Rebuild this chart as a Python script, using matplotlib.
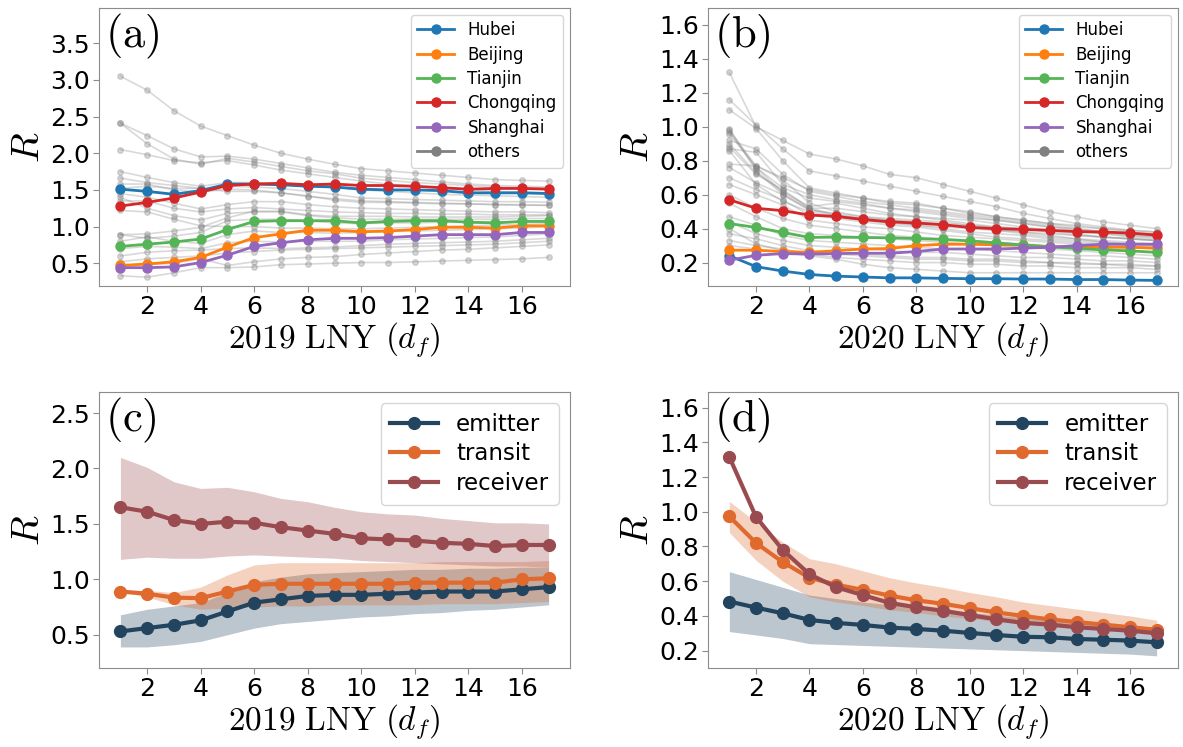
import numpy as np
import matplotlib

matplotlib.use("Agg")
import matplotlib.pyplot as plt

plt.rcParams["mathtext.fontset"] = "cm"
plt.rcParams["font.family"] = "DejaVu Sans"

DAYS = np.arange(1, 18)

# ---------------------------------------------------------------------------
# (a) 2019 LNY, provinces
# ---------------------------------------------------------------------------
HUBEI_19 = [1.51, 1.48, 1.44, 1.49, 1.58, 1.58, 1.57, 1.55, 1.54, 1.51, 1.50,
            1.50, 1.49, 1.46, 1.46, 1.46, 1.45]
BEIJING_19 = [0.47, 0.49, 0.52, 0.58, 0.72, 0.85, 0.90, 0.95, 0.95, 0.93, 0.94,
              0.96, 0.99, 0.99, 0.98, 1.01, 1.01]
TIANJIN_19 = [0.73, 0.76, 0.79, 0.83, 0.96, 1.07, 1.08, 1.08, 1.08, 1.05, 1.07,
              1.08, 1.08, 1.06, 1.05, 1.07, 1.07]
CHONGQING_19 = [1.28, 1.33, 1.39, 1.47, 1.56, 1.58, 1.59, 1.57, 1.58, 1.56, 1.56,
                1.55, 1.53, 1.51, 1.52, 1.52, 1.51]
SHANGHAI_19 = [0.44, 0.44, 0.45, 0.51, 0.61, 0.73, 0.78, 0.82, 0.84, 0.84, 0.85,
               0.87, 0.89, 0.89, 0.89, 0.92, 0.92]

OTHERS_19 = [
    [3.05, 2.86, 2.58, 2.37, 2.24, 2.11, 2.00, 1.92, 1.85, 1.79, 1.76, 1.73, 1.70, 1.67, 1.64, 1.63, 1.62],
    [2.41, 2.24, 2.06, 1.95, 1.96, 1.92, 1.86, 1.80, 1.74, 1.70, 1.67, 1.64, 1.61, 1.58, 1.56, 1.55, 1.54],
    [2.41, 2.13, 1.92, 1.85, 1.93, 1.88, 1.82, 1.76, 1.72, 1.66, 1.63, 1.60, 1.58, 1.56, 1.54, 1.53, 1.52],
    [2.05, 1.98, 1.90, 1.87, 1.90, 1.84, 1.77, 1.72, 1.67, 1.62, 1.58, 1.55, 1.52, 1.50, 1.48, 1.47, 1.46],
    [1.75, 1.67, 1.60, 1.55, 1.60, 1.60, 1.58, 1.56, 1.53, 1.50, 1.48, 1.46, 1.44, 1.43, 1.42, 1.41, 1.40],
    [1.66, 1.60, 1.56, 1.52, 1.55, 1.54, 1.52, 1.48, 1.44, 1.39, 1.38, 1.37, 1.36, 1.35, 1.34, 1.34, 1.33],
    [1.58, 1.58, 1.50, 1.47, 1.51, 1.50, 1.46, 1.41, 1.38, 1.35, 1.34, 1.33, 1.32, 1.31, 1.30, 1.30, 1.29],
    [1.52, 1.55, 1.52, 1.52, 1.48, 1.48, 1.46, 1.42, 1.36, 1.33, 1.33, 1.32, 1.31, 1.31, 1.30, 1.29, 1.29],
    [1.45, 1.40, 1.32, 1.24, 1.30, 1.34, 1.34, 1.30, 1.27, 1.25, 1.24, 1.23, 1.22, 1.21, 1.20, 1.20, 1.19],
    [1.40, 1.25, 1.15, 1.09, 1.18, 1.20, 1.20, 1.15, 1.12, 1.10, 1.10, 1.10, 1.10, 1.10, 1.10, 1.11, 1.11],
    [1.35, 1.35, 1.25, 1.20, 1.24, 1.26, 1.24, 1.22, 1.20, 1.19, 1.18, 1.18, 1.17, 1.17, 1.16, 1.16, 1.16],
    [1.22, 1.20, 1.10, 1.01, 1.00, 1.00, 0.98, 0.98, 0.97, 0.97, 0.98, 0.99, 1.00, 1.01, 1.02, 1.03, 1.04],
    [0.89, 0.90, 0.94, 0.99, 1.12, 1.21, 1.21, 1.16, 1.14, 1.14, 1.14, 1.13, 1.13, 1.13, 1.13, 1.14, 1.15],
    [0.89, 0.84, 0.87, 0.92, 1.08, 1.10, 1.10, 1.08, 1.05, 1.04, 1.05, 1.05, 1.06, 1.06, 1.06, 1.07, 1.08],
    [0.80, 0.86, 0.80, 0.77, 0.89, 0.94, 0.92, 0.92, 0.91, 0.92, 0.93, 0.94, 0.95, 0.96, 0.97, 0.98, 1.00],
    [0.70, 0.73, 0.72, 0.70, 0.78, 0.80, 0.79, 0.80, 0.80, 0.80, 0.82, 0.83, 0.84, 0.85, 0.86, 0.88, 0.90],
    [0.60, 0.65, 0.67, 0.68, 0.70, 0.71, 0.70, 0.71, 0.72, 0.74, 0.76, 0.77, 0.78, 0.79, 0.80, 0.82, 0.84],
    [0.52, 0.56, 0.58, 0.60, 0.64, 0.66, 0.68, 0.69, 0.70, 0.71, 0.72, 0.73, 0.74, 0.75, 0.76, 0.78, 0.80],
    [0.45, 0.48, 0.50, 0.56, 0.47, 0.52, 0.56, 0.58, 0.59, 0.62, 0.64, 0.66, 0.68, 0.69, 0.71, 0.73, 0.75],
    [0.33, 0.31, 0.37, 0.44, 0.44, 0.45, 0.48, 0.49, 0.50, 0.51, 0.51, 0.52, 0.53, 0.54, 0.55, 0.56, 0.58],
]

# ---------------------------------------------------------------------------
# (b) 2020 LNY, provinces
# ---------------------------------------------------------------------------
HUBEI_20 = [0.24, 0.176, 0.15, 0.13, 0.12, 0.115, 0.11, 0.11, 0.107, 0.105, 0.105,
            0.103, 0.103, 0.10, 0.10, 0.097, 0.095]
BEIJING_20 = [0.273, 0.273, 0.265, 0.26, 0.27, 0.28, 0.283, 0.30, 0.308, 0.308, 0.305,
              0.303, 0.293, 0.293, 0.29, 0.29, 0.285]
TIANJIN_20 = [0.43, 0.407, 0.378, 0.348, 0.35, 0.348, 0.346, 0.342, 0.336, 0.328, 0.316,
              0.303, 0.293, 0.283, 0.275, 0.269, 0.26]
CHONGQING_20 = [0.57, 0.52, 0.506, 0.48, 0.472, 0.454, 0.44, 0.433, 0.423, 0.407, 0.40,
                0.395, 0.39, 0.383, 0.38, 0.374, 0.362]
SHANGHAI_20 = [0.214, 0.243, 0.253, 0.25, 0.253, 0.255, 0.255, 0.265, 0.28, 0.28, 0.28,
               0.285, 0.29, 0.30, 0.308, 0.308, 0.308]

OTHERS_20 = [
    [1.32, 1.00, 0.92, 0.84, 0.81, 0.77, 0.72, 0.70, 0.66, 0.62, 0.58, 0.54, 0.50, 0.47, 0.44, 0.42, 0.40],
    [1.16, 1.01, 0.87, 0.74, 0.71, 0.68, 0.65, 0.62, 0.59, 0.56, 0.53, 0.49, 0.46, 0.43, 0.41, 0.39, 0.38],
    [1.10, 0.99, 0.80, 0.64, 0.61, 0.58, 0.56, 0.55, 0.52, 0.50, 0.47, 0.45, 0.43, 0.41, 0.40, 0.39, 0.38],
    [0.99, 0.74, 0.60, 0.51, 0.49, 0.47, 0.46, 0.45, 0.44, 0.42, 0.40, 0.38, 0.36, 0.34, 0.32, 0.31, 0.30],
    [0.98, 0.77, 0.70, 0.63, 0.60, 0.58, 0.55, 0.54, 0.52, 0.49, 0.47, 0.45, 0.43, 0.42, 0.40, 0.38, 0.37],
    [0.97, 0.76, 0.64, 0.58, 0.56, 0.54, 0.52, 0.50, 0.48, 0.46, 0.45, 0.43, 0.41, 0.40, 0.38, 0.37, 0.36],
    [0.96, 0.76, 0.61, 0.52, 0.48, 0.46, 0.45, 0.44, 0.43, 0.42, 0.41, 0.40, 0.39, 0.38, 0.37, 0.36, 0.35],
    [0.92, 0.87, 0.72, 0.62, 0.59, 0.56, 0.54, 0.52, 0.50, 0.48, 0.46, 0.44, 0.42, 0.40, 0.38, 0.36, 0.35],
    [0.90, 0.73, 0.62, 0.53, 0.55, 0.52, 0.49, 0.47, 0.46, 0.45, 0.43, 0.41, 0.39, 0.37, 0.35, 0.34, 0.33],
    [0.88, 0.72, 0.63, 0.52, 0.52, 0.50, 0.48, 0.47, 0.45, 0.43, 0.41, 0.40, 0.38, 0.36, 0.35, 0.34, 0.33],
    [0.87, 0.85, 0.66, 0.60, 0.57, 0.55, 0.52, 0.51, 0.49, 0.47, 0.45, 0.43, 0.41, 0.39, 0.37, 0.35, 0.34],
    [0.86, 0.66, 0.56, 0.50, 0.47, 0.45, 0.43, 0.42, 0.41, 0.40, 0.39, 0.38, 0.37, 0.36, 0.35, 0.34, 0.33],
    [0.78, 0.77, 0.69, 0.55, 0.50, 0.47, 0.45, 0.44, 0.42, 0.41, 0.39, 0.37, 0.35, 0.34, 0.33, 0.32, 0.31],
    [0.76, 0.67, 0.60, 0.51, 0.48, 0.46, 0.44, 0.42, 0.40, 0.38, 0.37, 0.36, 0.34, 0.33, 0.32, 0.31, 0.30],
    [0.70, 0.63, 0.57, 0.48, 0.46, 0.44, 0.42, 0.41, 0.39, 0.37, 0.35, 0.34, 0.33, 0.32, 0.31, 0.30, 0.29],
    [0.66, 0.60, 0.54, 0.45, 0.43, 0.41, 0.40, 0.38, 0.36, 0.35, 0.34, 0.33, 0.32, 0.31, 0.30, 0.29, 0.28],
    [0.60, 0.52, 0.46, 0.42, 0.40, 0.38, 0.36, 0.35, 0.34, 0.33, 0.32, 0.31, 0.30, 0.29, 0.28, 0.27, 0.26],
    [0.55, 0.47, 0.40, 0.37, 0.36, 0.35, 0.34, 0.33, 0.32, 0.31, 0.30, 0.29, 0.28, 0.27, 0.26, 0.25, 0.24],
    [0.47, 0.42, 0.36, 0.33, 0.32, 0.31, 0.30, 0.29, 0.28, 0.28, 0.27, 0.26, 0.25, 0.24, 0.24, 0.23, 0.22],
    [0.44, 0.37, 0.33, 0.30, 0.29, 0.28, 0.27, 0.26, 0.26, 0.25, 0.24, 0.23, 0.23, 0.22, 0.21, 0.21, 0.20],
    [0.40, 0.31, 0.27, 0.26, 0.25, 0.24, 0.23, 0.22, 0.22, 0.21, 0.21, 0.20, 0.20, 0.19, 0.19, 0.18, 0.18],
    [0.37, 0.34, 0.30, 0.27, 0.26, 0.25, 0.24, 0.23, 0.23, 0.22, 0.22, 0.21, 0.20, 0.20, 0.19, 0.19, 0.18],
    [0.33, 0.30, 0.28, 0.25, 0.23, 0.22, 0.21, 0.20, 0.20, 0.19, 0.19, 0.18, 0.18, 0.17, 0.17, 0.17, 0.16],
    [0.30, 0.28, 0.26, 0.24, 0.22, 0.19, 0.17, 0.16, 0.15, 0.14, 0.14, 0.14, 0.14, 0.14, 0.14, 0.14, 0.14],
]

# ---------------------------------------------------------------------------
# (c) 2019 LNY, province groups (mean with spread)
# ---------------------------------------------------------------------------
EMITTER_19 = [0.53, 0.56, 0.59, 0.63, 0.71, 0.79, 0.82, 0.85, 0.86, 0.86, 0.87,
              0.88, 0.89, 0.89, 0.89, 0.91, 0.93]
EMITTER_19_LO = [0.39, 0.39, 0.41, 0.44, 0.50, 0.56, 0.60, 0.62, 0.64, 0.66, 0.67,
                 0.69, 0.70, 0.72, 0.73, 0.75, 0.77]
EMITTER_19_HI = [0.68, 0.73, 0.76, 0.79, 0.88, 0.98, 1.02, 1.05, 1.06, 1.07, 1.08,
                 1.09, 1.09, 1.10, 1.10, 1.11, 1.11]
TRANSIT_19 = [0.89, 0.87, 0.835, 0.83, 0.89, 0.95, 0.96, 0.96, 0.96, 0.96, 0.96,
              0.97, 0.97, 0.97, 0.97, 1.00, 1.01]
TRANSIT_19_LO = [0.89, 0.84, 0.77, 0.73, 0.74, 0.75, 0.76, 0.76, 0.77, 0.77, 0.77,
                 0.77, 0.78, 0.78, 0.78, 0.79, 0.80]
TRANSIT_19_HI = [0.90, 0.90, 0.88, 0.93, 1.04, 1.13, 1.15, 1.15, 1.15, 1.15, 1.15,
                 1.15, 1.16, 1.16, 1.16, 1.16, 1.17]
RECEIVER_19 = [1.65, 1.61, 1.535, 1.50, 1.52, 1.51, 1.47, 1.44, 1.41, 1.37, 1.36,
               1.35, 1.33, 1.32, 1.30, 1.31, 1.31]
RECEIVER_19_LO = [1.18, 1.20, 1.19, 1.19, 1.21, 1.22, 1.21, 1.20, 1.19, 1.17, 1.16,
                  1.15, 1.14, 1.13, 1.12, 1.12, 1.11]
RECEIVER_19_HI = [2.10, 2.01, 1.88, 1.82, 1.83, 1.79, 1.73, 1.70, 1.65, 1.61, 1.59,
                  1.58, 1.55, 1.53, 1.51, 1.51, 1.50]

# ---------------------------------------------------------------------------
# (d) 2020 LNY, province groups
# ---------------------------------------------------------------------------
EMITTER_20 = [0.483, 0.448, 0.415, 0.377, 0.36, 0.348, 0.333, 0.325, 0.315, 0.302,
              0.29, 0.28, 0.277, 0.267, 0.263, 0.258, 0.248]
EMITTER_20_LO = [0.31, 0.29, 0.27, 0.24, 0.235, 0.23, 0.225, 0.22, 0.215, 0.21,
                 0.205, 0.20, 0.195, 0.19, 0.185, 0.18, 0.17]
EMITTER_20_HI = [0.655, 0.61, 0.565, 0.52, 0.50, 0.48, 0.465, 0.45, 0.435, 0.42,
                 0.405, 0.39, 0.375, 0.365, 0.355, 0.345, 0.335]
TRANSIT_20 = [0.973, 0.82, 0.71, 0.62, 0.58, 0.55, 0.517, 0.49, 0.47, 0.445,
              0.42, 0.40, 0.38, 0.365, 0.35, 0.335, 0.32]
TRANSIT_20_LO = [0.88, 0.72, 0.60, 0.51, 0.48, 0.46, 0.435, 0.42, 0.40, 0.385,
                 0.37, 0.36, 0.345, 0.335, 0.32, 0.31, 0.295]
TRANSIT_20_HI = [1.06, 0.94, 0.825, 0.73, 0.70, 0.66, 0.62, 0.59, 0.565, 0.535,
                 0.51, 0.48, 0.46, 0.44, 0.42, 0.40, 0.375]
RECEIVER_20 = [1.315, 0.97, 0.78, 0.64, 0.565, 0.52, 0.475, 0.45, 0.43, 0.405,
               0.38, 0.36, 0.35, 0.335, 0.325, 0.315, 0.30]

PROVINCE_NAMES = ["Hubei", "Beijing", "Tianjin", "Chongqing", "Shanghai"]
PROVINCE_COLORS = ["#1f77b4", "#ff7f0e", "#55b455", "#d62728", "#9467bd"]
GROUP_NAMES = ["emitter", "transit", "receiver"]
GROUP_COLORS = ["#22445f", "#e0692e", "#9a4b4f"]

SPINE_COLOR = "#8c8c8c"


def style_axes(ax, ylim, yticks, xlabel, tag):
    ax.set_xlim(0.2, 17.8)
    ax.set_ylim(*ylim)
    ax.set_xticks(range(2, 17, 2))
    ax.set_yticks(yticks)
    ax.tick_params(labelsize=18, color=SPINE_COLOR, length=4, pad=2.5)
    for s in ax.spines.values():
        s.set_edgecolor(SPINE_COLOR)
    ax.set_xlabel(xlabel, fontsize=24, labelpad=1)
    ax.set_ylabel(r"$R$", fontsize=28, labelpad=2)
    ax.text(0.012, 0.985, tag, transform=ax.transAxes, fontsize=32,
            va="top", ha="left")


def draw_provinces(ax, others, series):
    for row in others:
        ax.plot(DAYS, row, color="gray", alpha=0.3, lw=1.2, marker="o", ms=4,
                zorder=1)
    handles = []
    for name, vals, c in zip(PROVINCE_NAMES, series, PROVINCE_COLORS):
        h, = ax.plot(DAYS, vals, color=c, lw=2, marker="o", ms=6.5, label=name,
                     zorder=3)
        handles.append(h)
    h, = ax.plot([], [], color="gray", lw=2, marker="o", ms=6.5, label="others")
    handles.append(h)
    ax.legend(handles=handles, loc="upper right", fontsize=12,
              labelspacing=0.38, handlelength=2.2, borderaxespad=0.4)


def draw_groups(ax, means, bands):
    for name, m, band, c in zip(GROUP_NAMES, means, bands, GROUP_COLORS):
        if band is not None:
            ax.fill_between(DAYS, band[0], band[1], color=c, alpha=0.3, lw=0,
                            zorder=1)
        ax.plot(DAYS, m, color=c, lw=3, marker="o", ms=8.5, label=name, zorder=3)
    ax.legend(loc="upper right", fontsize=16.5, labelspacing=0.3,
              handlelength=2.1, borderaxespad=0.5)


fig = plt.figure(figsize=(11.83, 7.47), dpi=100)
W, H = 1183.0, 747.0
ax_a = fig.add_axes([99 / W, 1 - 286 / H, 471 / W, 278 / H])
ax_b = fig.add_axes([708 / W, 1 - 286 / H, 470 / W, 278 / H])
ax_c = fig.add_axes([99 / W, 1 - 668 / H, 471 / W, 276 / H])
ax_d = fig.add_axes([708 / W, 1 - 668 / H, 470 / W, 276 / H])

draw_provinces(ax_a, OTHERS_19,
               [HUBEI_19, BEIJING_19, TIANJIN_19, CHONGQING_19, SHANGHAI_19])
style_axes(ax_a, (0.19, 3.98), [0.5, 1.0, 1.5, 2.0, 2.5, 3.0, 3.5],
           r"$\mathrm{2019\ LNY}\ (d_f)$", r"$\mathrm{(a)}$")

draw_provinces(ax_b, OTHERS_20,
               [HUBEI_20, BEIJING_20, TIANJIN_20, CHONGQING_20, SHANGHAI_20])
style_axes(ax_b, (0.062, 1.70), [0.2, 0.4, 0.6, 0.8, 1.0, 1.2, 1.4, 1.6],
           r"$\mathrm{2020\ LNY}\ (d_f)$", r"$\mathrm{(b)}$")

draw_groups(ax_c, [EMITTER_19, TRANSIT_19, RECEIVER_19],
            [(EMITTER_19_LO, EMITTER_19_HI), (TRANSIT_19_LO, TRANSIT_19_HI),
             (RECEIVER_19_LO, RECEIVER_19_HI)])
style_axes(ax_c, (0.2, 2.69), [0.5, 1.0, 1.5, 2.0, 2.5],
           r"$\mathrm{2019\ LNY}\ (d_f)$", r"$\mathrm{(c)}$")

draw_groups(ax_d, [EMITTER_20, TRANSIT_20, RECEIVER_20],
            [(EMITTER_20_LO, EMITTER_20_HI), (TRANSIT_20_LO, TRANSIT_20_HI), None])
style_axes(ax_d, (0.10, 1.69), [0.2, 0.4, 0.6, 0.8, 1.0, 1.2, 1.4, 1.6],
           r"$\mathrm{2020\ LNY}\ (d_f)$", r"$\mathrm{(d)}$")

fig.savefig("out.png", dpi=100)
